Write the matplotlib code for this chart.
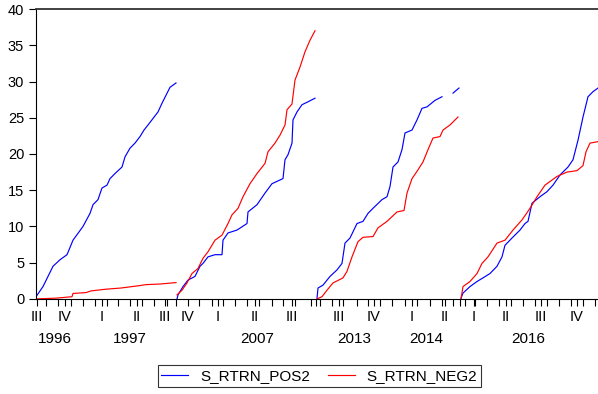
import matplotlib.pyplot as plt
from matplotlib.ticker import FixedLocator, NullFormatter

plt.rcParams['font.family'] = ['Liberation Sans', 'DejaVu Sans']

# observation index (trading days along the axis), four sample blocks with gaps
pos_x1 = [1, 7, 17, 24, 31, 37, 47, 54, 57, 62, 66, 71, 74, 79, 86, 89, 94, 99, 104, 108, 112, 117, 122, 126, 130, 134, 140]
pos_y1 = [0.5, 1.7, 4.5, 5.4, 6.1, 8.1, 10.0, 11.8, 13.0, 13.7, 15.3, 15.7, 16.6, 17.3, 18.2, 19.6, 20.8, 21.5, 22.4, 23.3, 24.0, 24.9, 25.8, 27.0, 28.1, 29.2, 29.8]
neg_x1 = [0, 20, 36, 37, 50, 55, 70, 85, 104, 110, 124, 140]
neg_y1 = [0.0, 0.1, 0.3, 0.75, 0.87, 1.1, 1.34, 1.5, 1.84, 1.97, 2.05, 2.25]

pos_x2 = [141, 142, 147, 152, 159, 164, 167, 172, 179, 186, 187, 192, 201, 211, 212, 221, 229, 236, 247, 249, 252, 256, 257, 261, 266, 272, 279]
pos_y2 = [0.0, 0.55, 1.7, 2.6, 3.1, 4.5, 4.9, 5.8, 6.1, 6.1, 8.1, 9.1, 9.5, 10.4, 12.0, 13.0, 14.6, 15.9, 16.6, 19.2, 19.9, 21.5, 24.7, 25.8, 26.8, 27.2, 27.7]
neg_x2 = [141, 146, 151, 156, 162, 167, 172, 179, 186, 192, 196, 202, 207, 214, 221, 229, 232, 239, 244, 249, 251, 256, 259, 264, 269, 274, 279]
neg_y2 = [0.55, 1.2, 2.2, 3.5, 4.2, 5.6, 6.5, 8.1, 8.8, 10.4, 11.6, 12.5, 14.1, 15.9, 17.3, 18.7, 20.3, 21.5, 22.6, 24.0, 26.1, 26.9, 30.2, 32.0, 34.1, 35.7, 37.0]

pos_x3 = [281, 282, 287, 294, 301, 306, 309, 314, 321, 327, 332, 337, 346, 351, 354, 357, 362, 366, 369, 376, 381, 386, 391, 399, 406, 412, 417, 423]
pos_y3 = [0.1, 1.5, 1.9, 3.1, 4.0, 4.9, 7.7, 8.4, 10.4, 10.7, 11.8, 12.5, 13.7, 14.1, 15.5, 18.2, 18.9, 20.6, 22.9, 23.3, 24.7, 26.3, 26.5, 27.4, 27.9, None, 28.4, 29.1]
neg_x3 = [281, 286, 291, 297, 307, 311, 316, 322, 327, 337, 342, 351, 361, 368, 371, 376, 381, 387, 392, 397, 404, 407, 414, 422]
neg_y3 = [0.0, 0.3, 1.2, 2.2, 2.9, 3.8, 5.8, 7.9, 8.5, 8.6, 9.8, 10.7, 12.0, 12.2, 14.6, 16.6, 17.6, 18.9, 20.6, 22.2, 22.4, 23.3, 24.0, 25.1]

pos_x4 = [425, 427, 434, 441, 447, 454, 461, 466, 469, 476, 484, 489, 492, 496, 504, 511, 517, 524, 532, 537, 542, 547, 552, 557, 562]
pos_y4 = [0.1, 0.8, 1.7, 2.4, 2.9, 3.5, 4.5, 5.8, 7.4, 8.4, 9.5, 10.4, 10.7, 13.2, 14.1, 14.8, 15.7, 17.1, 18.2, 19.2, 21.9, 25.1, 27.9, 28.6, 29.1]
neg_x4 = [425, 427, 434, 441, 446, 452, 461, 469, 477, 486, 494, 501, 509, 521, 531, 541, 547, 550, 554, 562]
neg_y4 = [0.0, 1.7, 2.4, 3.5, 4.9, 5.8, 7.7, 8.1, 9.5, 10.9, 12.5, 14.1, 15.7, 16.9, 17.5, 17.7, 18.4, 20.3, 21.5, 21.7]

# axis labels
quarter_pos = [1, 29, 66, 101, 129, 152, 182, 219, 256, 303, 338, 376, 409, 438, 470, 505, 541]
quarter_labels = ['III', 'IV', 'I', 'II', 'III', 'IV', 'I', 'II', 'III', 'III', 'IV', 'I', 'II', 'I', 'II', 'III', 'IV']
month_ticks = [10, 22, 35, 47, 59, 71, 82, 94, 106, 118, 131, 140, 152, 163, 176, 187, 199, 211, 223, 236, 247, 259,
               275, 280, 284, 296, 307, 321, 332, 344, 356, 369, 381, 394, 406, 417, 424, 429, 439, 451, 463, 475, 487,
               499, 511, 523, 535, 547, 559]
year_pos = [19, 94, 221, 318, 390, 492]
year_labels = ['1996', '1997', '2007', '2013', '2014', '2016']

segments = [(pos_x1, pos_y1, neg_x1, neg_y1), (pos_x2, pos_y2, neg_x2, neg_y2),
            (pos_x3, pos_y3, neg_x3, neg_y3), (pos_x4, pos_y4, neg_x4, neg_y4)]

fig = plt.figure(figsize=(5.98, 3.94), dpi=100)
ax = fig.add_axes([0.0602, 0.2414, 0.9398, 0.7356])

for i, (px, py, nx, ny) in enumerate(segments):
    py = [float('nan') if v is None else v for v in py]
    ax.plot(px, py, color='#0000ff', lw=0.85, label='S_RTRN_POS2' if i == 0 else None)
    ax.plot(nx, ny, color='#ff0000', lw=0.85, label='S_RTRN_NEG2' if i == 0 else None)

ax.set_xlim(0, 562)
ax.set_ylim(0, 40)
ax.set_yticks(range(0, 41, 5))
ax.tick_params(axis='y', direction='out', length=5, width=0.8, labelsize=10.5, pad=3.5)

ax.set_xticks(quarter_pos)
ax.set_xticklabels(quarter_labels, fontsize=10.5)
ax.xaxis.set_minor_locator(FixedLocator(month_ticks))
ax.xaxis.set_minor_formatter(NullFormatter())
ax.tick_params(axis='x', which='major', length=5, width=0.8, pad=3)
ax.tick_params(axis='x', which='minor', length=5, width=0.8)

for x, lab in zip(year_pos, year_labels):
    ax.text(x, -0.14, lab, transform=ax.get_xaxis_transform(), ha='center', va='center', fontsize=11)

ax.spines['right'].set_visible(False)
ax.spines['top'].set_color('#333333')
ax.spines['top'].set_linewidth(1.3)

leg = fig.legend(loc='center', bbox_to_anchor=(0.534, 0.045), ncol=2, fontsize=11, frameon=True,
                 fancybox=False, edgecolor='black', handlelength=1.75, handletextpad=0.78,
                 columnspacing=1.18, borderpad=0.25)
leg.get_frame().set_linewidth(0.8)

fig.savefig('out.png', dpi=100)
